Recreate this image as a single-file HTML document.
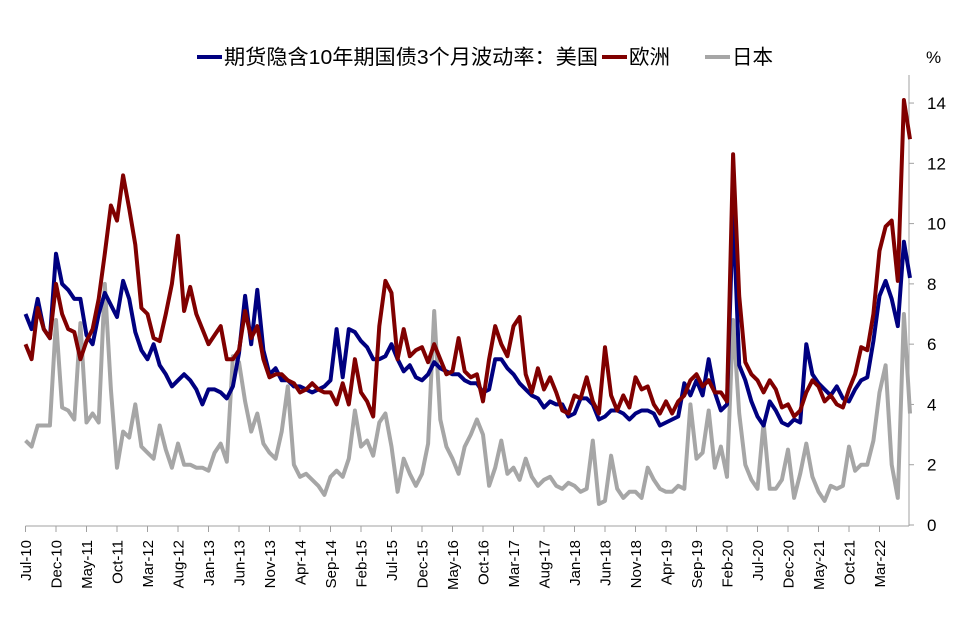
<!DOCTYPE html>
<html><head><meta charset="utf-8"><style>
body{margin:0;background:#fff;}
svg{display:block;font-family:"Liberation Sans","Noto Sans CJK SC",sans-serif;}
</style></head><body>
<svg id="chart" width="961" height="635" viewBox="0 0 961 635" xmlns="http://www.w3.org/2000/svg">
<g id="legend">
  <g><line x1="197" y1="57" x2="222" y2="57" stroke="#000080" stroke-width="4"/><text x="224" y="64" font-size="20.5" textLength="374" lengthAdjust="spacingAndGlyphs">期货隐含10年期国债3个月波动率：美国</text></g>
  <g><line x1="602" y1="57" x2="627" y2="57" stroke="#800000" stroke-width="4"/><text x="629" y="64" font-size="20.5">欧洲</text></g>
  <g><line x1="705" y1="57" x2="730" y2="57" stroke="#a6a6a6" stroke-width="4"/><text x="732" y="64" font-size="20.5">日本</text></g>
</g>
<text x="926" y="63" font-size="17">%</text>
<g id="axes"></g>
<g id="series"></g>
</svg>
<script>
const startYear = 2010, startMonth = 6; // Jul-2010
const yTicks = [0,2,4,6,8,10,12,14];
const xTickEvery = 5;
const monthNames = ["Jan","Feb","Mar","Apr","May","Jun","Jul","Aug","Sep","Oct","Nov","Dec"];
const usVals = [7.0,6.5,7.5,6.5,6.2,9.0,8.0,7.8,7.5,7.5,6.3,6.0,7.0,7.7,7.3,6.9,8.1,7.5,6.4,5.8,5.5,6.0,5.3,5.0,4.6,4.8,5.0,4.8,4.5,4.0,4.5,4.5,4.4,4.2,4.6,5.7,7.6,6.0,7.8,5.8,5.0,5.2,4.8,4.8,4.6,4.6,4.5,4.4,4.5,4.6,4.8,6.5,4.9,6.5,6.4,6.1,5.9,5.5,5.5,5.6,6.0,5.5,5.1,5.3,4.9,4.8,5.0,5.4,5.2,5.1,5.0,5.0,4.8,4.7,4.7,4.4,4.5,5.5,5.5,5.2,5.0,4.7,4.5,4.3,4.2,3.9,4.1,4.0,4.0,3.6,3.7,4.2,4.2,4.0,3.5,3.6,3.8,3.8,3.7,3.5,3.7,3.8,3.8,3.7,3.3,3.4,3.5,3.6,4.7,4.3,4.8,4.3,5.5,4.4,3.8,4.0,10.5,5.3,4.8,4.1,3.6,3.3,4.1,3.8,3.4,3.3,3.5,3.4,6.0,5.0,4.7,4.5,4.3,4.6,4.2,4.1,4.5,4.8,4.9,6.1,7.6,8.1,7.5,6.6,9.4,8.2];
const euVals = [6.0,5.5,7.2,6.5,6.2,8.0,7.0,6.5,6.4,5.5,6.1,6.5,7.5,9.0,10.6,10.1,11.6,10.5,9.3,7.2,7.0,6.2,6.1,7.0,8.0,9.6,7.1,7.9,7.0,6.5,6.0,6.3,6.6,5.5,5.5,5.8,7.1,6.2,6.6,5.5,4.9,5.0,5.0,4.8,4.7,4.4,4.5,4.7,4.5,4.4,4.4,4.0,4.7,4.0,5.5,4.4,4.1,3.6,6.6,8.1,7.7,5.5,6.5,5.6,5.8,5.9,5.4,6.0,5.5,5.0,5.1,6.2,5.1,4.9,5.0,4.1,5.5,6.6,6.0,5.6,6.6,6.9,5.0,4.4,5.2,4.5,4.9,4.4,3.8,3.7,4.3,4.2,4.9,4.1,3.7,5.9,4.3,3.8,4.3,3.9,4.9,4.5,4.6,4.0,3.7,4.1,3.7,4.1,4.3,4.8,5.0,4.6,4.8,4.4,4.4,4.1,12.3,7.6,5.4,5.0,4.8,4.4,4.8,4.5,3.9,4.0,3.6,3.8,4.4,4.8,4.6,4.1,4.3,4.0,3.9,4.5,5.0,5.9,5.8,7.0,9.1,9.9,10.1,8.1,14.1,12.8];
const jpVals = [2.8,2.6,3.3,3.3,3.3,6.8,3.9,3.8,3.5,6.7,3.4,3.7,3.4,8.0,4.5,1.9,3.1,2.9,4.0,2.6,2.4,2.2,3.3,2.5,1.9,2.7,2.0,2.0,1.9,1.9,1.8,2.4,2.7,2.1,5.6,5.4,4.1,3.1,3.7,2.7,2.4,2.2,3.1,4.6,2.0,1.6,1.7,1.5,1.3,1.0,1.6,1.8,1.6,2.2,3.8,2.6,2.8,2.3,3.4,3.7,2.6,1.1,2.2,1.7,1.3,1.7,2.7,7.1,3.5,2.6,2.2,1.7,2.6,3.0,3.5,3.0,1.3,1.9,2.8,1.7,1.9,1.5,2.2,1.6,1.3,1.5,1.6,1.3,1.2,1.4,1.3,1.1,1.2,2.8,0.7,0.8,2.3,1.2,0.9,1.1,1.1,0.9,1.9,1.5,1.2,1.1,1.1,1.3,1.2,4.0,2.2,2.4,3.8,1.9,2.6,1.6,6.8,3.7,2.0,1.5,1.2,3.4,1.2,1.2,1.5,2.5,0.9,1.7,2.7,1.6,1.1,0.8,1.3,1.2,1.3,2.6,1.8,2.0,2.0,2.8,4.4,5.3,2.0,0.9,7.0,3.7];

const NS = "http://www.w3.org/2000/svg";
const x0 = 25.5, dx = 6.1, y0 = 525, yPer = 30.14;
function xScale(i){ return x0 + i*dx; }
function yScale(v){ return y0 - v*yPer; }
function mk(tag, attrs, parent){ const e=document.createElementNS(NS,tag); for(const k in attrs) e.setAttribute(k,attrs[k]); parent.appendChild(e); return e; }

const axes = document.getElementById('axes');
const n = usVals.length;
const xEnd = 909;
const xAxis = mk('line',{x1:x0,y1:526,x2:xEnd,y2:526,stroke:'#a0a0a0','stroke-width':1},axes);


const yAxis = mk('line',{x1:xEnd,y1:75,x2:xEnd,y2:526,stroke:'#a0a0a0','stroke-width':1},axes);


yTicks.forEach(t=>{
  const y=yScale(t);
  const tk = mk('line',{x1:xEnd,y1:y,x2:xEnd+5,y2:y,stroke:'#a0a0a0'},axes);
  
  
  const lb = mk('text',{x:927,y:y+6,'font-size':17},axes);
  lb.textContent = t;
  
  
});
for(let i=0;i<n-1;i+=xTickEvery){
  const x=xScale(i);
  const tk = mk('line',{x1:x,y1:526,x2:x,y2:532,stroke:'#a0a0a0'},axes);
  
  
  const mAbs = startMonth + i;
  const label = monthNames[mAbs%12] + '-' + String((startYear + Math.floor(mAbs/12))%100).padStart(2,'0');
  const lb = mk('text',{x:0,y:0,'font-size':15,'text-anchor':'end',transform:`translate(${x+5.5},540) rotate(-90)`},axes);
  lb.textContent = label;
  
  
}
const series = document.getElementById('series');
function drawLine(vals,color,name){
  const pts = vals.map((v,i)=>xScale(i).toFixed(1)+','+yScale(v).toFixed(1)).join(' ');
  const pl = mk('polyline',{points:pts,fill:'none',stroke:color,'stroke-width':4,'stroke-linejoin':'round'},series);
  
  
}
drawLine(jpVals,'#a6a6a6','line-japan');
drawLine(usVals,'#000080','line-us');
drawLine(euVals,'#800000','line-europe');
</script>
</body></html>
